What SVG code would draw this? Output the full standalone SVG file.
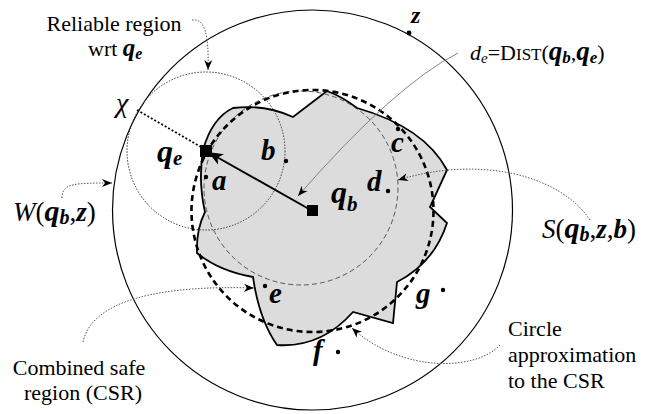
<svg xmlns="http://www.w3.org/2000/svg" width="659" height="414" viewBox="0 0 659 414" font-size="22">
<defs>
<style>
.lab{font-family:"Liberation Serif","Times New Roman",serif;fill:#000}
.bi{font-weight:bold;font-style:italic}
.it{font-style:italic}
.call{fill:none;stroke:#555;stroke-width:1;stroke-dasharray:1.5 1.5}
.thin{fill:none;stroke:#777;stroke-width:0.9}
</style>
<marker id="ah" markerUnits="userSpaceOnUse" markerWidth="11" markerHeight="9" refX="10" refY="4.5" orient="auto">
<path d="M0,0.5 L10,4.5 L0,8.5 L3,4.5 Z" fill="#000"/>
</marker>
<marker id="big" markerUnits="userSpaceOnUse" markerWidth="16" markerHeight="12" refX="15" refY="6" orient="auto">
<path d="M0,0 L15,6 L0,12 L4,6 Z" fill="#000"/>
</marker>
</defs>
<rect width="659" height="414" fill="#fff"/>

<g id="window">
<circle cx="312.5" cy="210" r="200" fill="none" stroke="#000" stroke-width="1.2"/>
</g>

<g id="csr">
<path d="M203,150 Q212,118 233,108 Q265,104 293,117 L327,91 Q343,97 357,108 Q424,127 447,170 L430,207 L447,223 Q434,263 397,282 L393,323 L353,312 Q321,348 277,345 Q259,319 253,277 Q219,271 197,253 Q196,230 205,212 Q198,182 203,150 Z" fill="#dcdcdc" stroke="#000" stroke-width="1.8" stroke-linejoin="miter"/>
</g>

<g id="reliable-region">
<circle cx="206" cy="151" r="79" fill="none" stroke="#333" stroke-width="1" stroke-dasharray="1.5 1.5"/>
</g>

<g id="safe-region">
<circle cx="301" cy="188" r="97" fill="none" stroke="#333" stroke-width="0.8" stroke-dasharray="5 3"/>
</g>

<g id="circle-approx">
<circle cx="312.5" cy="211" r="121" fill="none" stroke="#000" stroke-width="2.6" stroke-dasharray="6 4"/>
</g>

<g id="connectors">
<line x1="312.5" y1="211" x2="208" y2="152" stroke="#000" stroke-width="2" marker-end="url(#big)"/>
<line x1="137" y1="110" x2="201" y2="147" stroke="#000" stroke-width="1.8" stroke-dasharray="2 2"/>
<path class="thin" d="M458,53 Q395,85 298,196" marker-end="url(#ah)"/>
<path class="call" d="M192,20 C205,18 209,35 208,70" marker-end="url(#ah)"/>
<path class="call" d="M62,198 C62,183 75,183 112,183" marker-end="url(#ah)"/>
<path class="call" d="M590,220 C560,175 480,155 398,180" marker-end="url(#ah)"/>
<path class="call" d="M83,342 C92,300 160,285 254,288" marker-end="url(#ah)"/>
<path class="call" d="M500,345 C475,372 400,372 352,328" marker-end="url(#ah)"/>
</g>

<g id="qb">
<rect x="307" y="205" width="11" height="11" fill="#000"/>
<text class="lab bi" x="331" y="203" font-size="32">q<tspan font-size="21" dy="8">b</tspan></text>
</g>
<g id="qe">
<rect x="200" y="145" width="12" height="12" fill="#000"/>
<text class="lab bi" x="157" y="162" font-size="32">q<tspan font-size="21" dy="3">e</tspan></text>
</g>

<g id="points">
<circle cx="206" cy="177" r="2.2" fill="#000"/>
<circle cx="286" cy="161" r="2.2" fill="#000"/>
<circle cx="398" cy="129" r="2.2" fill="#000"/>
<circle cx="388" cy="191" r="2.2" fill="#000"/>
<circle cx="265" cy="286" r="2.2" fill="#000"/>
<circle cx="338" cy="352" r="2.2" fill="#000"/>
<circle cx="443" cy="290" r="2.2" fill="#000"/>
<circle cx="409" cy="33" r="2.4" fill="#000"/>
<text class="lab bi" x="212" y="190" font-size="29">a</text>
<text class="lab bi" x="261" y="160" font-size="29">b</text>
<text class="lab bi" x="391" y="152" font-size="29">c</text>
<text class="lab bi" x="367" y="191" font-size="29">d</text>
<text class="lab bi" x="269" y="303" font-size="29">e</text>
<text class="lab bi" x="313" y="360" font-size="29">f</text>
<text class="lab bi" x="416" y="303" font-size="29">g</text>
<text class="lab bi" x="411" y="23" font-size="24">z</text>
<text class="lab it" x="116" y="112" font-size="28">χ</text>
</g>

<g id="labels">
<text class="lab" x="114" y="31" text-anchor="middle">Reliable region</text>
<text class="lab" x="88" y="56">wrt <tspan class="bi" font-size="25">q</tspan><tspan class="bi" font-size="16" dy="3">e</tspan></text>
<text class="lab" x="470" y="60"><tspan class="it">d</tspan><tspan class="it" font-size="15" dy="3">e</tspan><tspan dy="-3">=D</tspan><tspan font-size="17">IST</tspan>(<tspan class="bi" font-size="27">q</tspan><tspan class="bi" font-size="17" dy="3">b</tspan><tspan dy="-3">,</tspan><tspan class="bi" font-size="27">q</tspan><tspan class="bi" font-size="17" dy="3">e</tspan><tspan dy="-3">)</tspan></text>
<text class="lab" x="13" y="221" font-size="27"><tspan class="it">W</tspan>(<tspan class="bi" font-size="30">q</tspan><tspan class="bi" font-size="20" dy="3">b</tspan><tspan dy="-3">,</tspan><tspan class="bi">z</tspan>)</text>
<text class="lab" x="542" y="238" font-size="27"><tspan class="it">S</tspan>(<tspan class="bi" font-size="30">q</tspan><tspan class="bi" font-size="20" dy="3">b</tspan><tspan dy="-3">,</tspan><tspan class="bi">z</tspan>,<tspan class="bi">b</tspan>)</text>
<text class="lab" x="79" y="375" text-anchor="middle">Combined safe</text>
<text class="lab" x="83" y="400" text-anchor="middle">region (CSR)</text>
<text class="lab" x="508" y="336">Circle</text>
<text class="lab" x="508" y="362">approximation</text>
<text class="lab" x="508" y="388">to the CSR</text>
</g>
</svg>
